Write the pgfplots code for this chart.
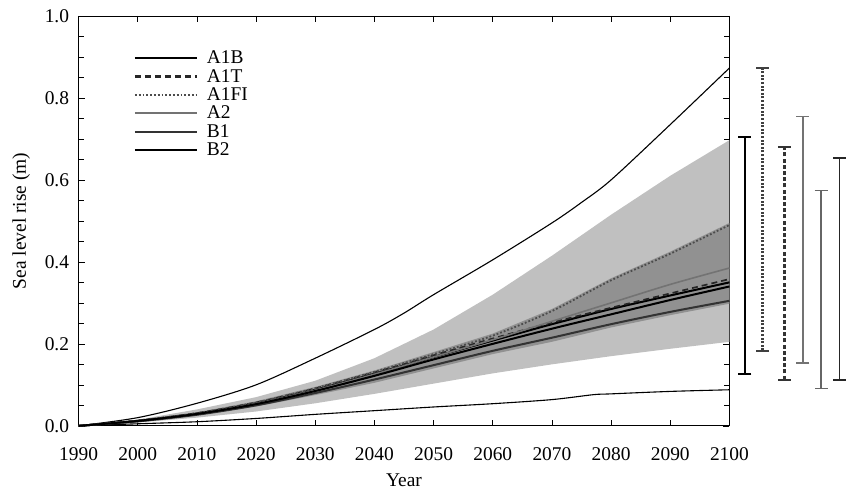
\documentclass[border=0pt]{standalone}
\usepackage{fontspec}
\setmainfont{Liberation Serif}
\usepackage{pgfplots}
\pgfplotsset{compat=1.18}
\usepgfplotslibrary{fillbetween}
\usetikzlibrary{arrows.meta}
\definecolor{lightband}{RGB}{192,192,192}
\definecolor{darkband}{RGB}{145,145,145}
\begin{document}
\begin{tikzpicture}
\begin{axis}[
  scale only axis, width=651bp, height=410bp,
  xmin=1990, xmax=2100, ymin=0, ymax=1,
  xtick={1990,2000,2010,2020,2030,2040,2050,2060,2070,2080,2090,2100},
  ytick={0,0.2,0.4,0.6,0.8,1.0}, minor y tick num=3,
  tick align=inside,
  major tick length=6bp, minor tick length=5bp,
  /pgf/number format/assume math mode=true,
  xticklabel style={/pgf/number format/1000 sep={}, yshift=-18bp},
  yticklabel style={/pgf/number format/fixed, /pgf/number format/fixed zerofill, /pgf/number format/precision=1, xshift=-6bp},
  tick label style={font=\fontsize{19.5}{22}\selectfont, black},
  label style={font=\fontsize{19.5}{22}\selectfont},
  xlabel={Year}, ylabel={Sea level rise (m)},
  xlabel style={yshift=-6bp},
  ylabel shift=8bp,
  clip=false,
  axis line style={black, line width=0.8bp},
  tick style={black, line width=0.6bp},
  legend cell align=left,
  legend style={draw=none, fill=none, at={(0.08,0.925)}, anchor=north west,
    font=\fontsize{19.5}{22}\selectfont},
  legend image code/.code={\path[draw=none, fill=none] (0bp,-9.2bp) rectangle (70bp,9.2bp); \draw[#1, line width=2.2bp] (0bp,0bp) -- (62bp,0bp);},
]
% light band
\addplot[draw=none, name path=lt, forget plot] coordinates {(1990,0) (2000,0.015) (2010,0.04) (2020,0.07) (2030,0.11) (2040,0.165) (2050,0.235) (2060,0.32) (2070,0.415) (2080,0.515) (2090,0.61) (2100,0.697)};
\addplot[draw=none, name path=lb, forget plot] coordinates {(1990,0) (2000,0.008) (2010,0.02) (2020,0.035) (2030,0.055) (2040,0.078) (2050,0.103) (2060,0.128) (2070,0.15) (2080,0.17) (2090,0.188) (2100,0.205)};
\addplot[lightband, forget plot] fill between[of=lt and lb];
% dark band
\addplot[draw=none, name path=dt, forget plot] coordinates {(1990,0) (2000,0.014) (2010,0.033) (2020,0.06) (2030,0.095) (2040,0.135) (2050,0.18) (2060,0.225) (2070,0.285) (2080,0.36) (2090,0.425) (2100,0.495)};
\addplot[draw=none, name path=db, forget plot] coordinates {(1990,0) (2000,0.011) (2010,0.026) (2020,0.047) (2030,0.075) (2040,0.105) (2050,0.14) (2060,0.175) (2070,0.205) (2080,0.24) (2090,0.27) (2100,0.298)};
\addplot[darkband, forget plot] fill between[of=dt and db];
% outer envelope
\addplot[black, line width=1.1bp, smooth, forget plot] coordinates {(1990,0) (2000,0.02) (2010,0.055) (2020,0.10) (2030,0.165) (2040,0.235) (2045,0.275) (2050,0.32) (2060,0.405) (2070,0.495) (2075,0.545) (2080,0.60) (2090,0.735) (2100,0.873)};
\addplot[black, line width=1.1bp, smooth, forget plot] coordinates {(1990,0) (2000,0.005) (2010,0.01) (2020,0.018) (2030,0.028) (2040,0.037) (2050,0.046) (2060,0.054) (2070,0.064) (2077,0.076) (2080,0.078) (2090,0.084) (2100,0.088)};
% scenarios
\addplot[black, line width=2bp, smooth] coordinates {(1990,0) (2000,0.012) (2010,0.03) (2020,0.055) (2030,0.088) (2040,0.127) (2050,0.168) (2060,0.208) (2070,0.248) (2080,0.285) (2090,0.318) (2100,0.35)};
\addlegendentry{A1B}
\addplot[black!85, line width=1.7bp, dash pattern=on 6bp off 4bp, smooth] coordinates {(1990,0) (2000,0.013) (2010,0.031) (2020,0.057) (2030,0.091) (2040,0.13) (2050,0.172) (2060,0.213) (2070,0.252) (2080,0.288) (2090,0.323) (2100,0.358)};
\addlegendentry{A1T}
\addplot[black!70, line width=1.8bp, dash pattern=on 1.8bp off 2bp, smooth] coordinates {(1990,0) (2000,0.013) (2010,0.031) (2020,0.057) (2030,0.092) (2040,0.132) (2050,0.175) (2060,0.22) (2070,0.28) (2080,0.355) (2090,0.42) (2100,0.49)};
\addlegendentry{A1FI}
\addplot[black!55, line width=1.6bp, smooth] coordinates {(1990,0) (2000,0.012) (2010,0.029) (2020,0.054) (2030,0.087) (2040,0.126) (2050,0.168) (2060,0.21) (2070,0.255) (2080,0.30) (2090,0.345) (2100,0.385)};
\addlegendentry{A2}
\addplot[black!80, line width=2bp, smooth] coordinates {(1990,0) (2000,0.011) (2010,0.027) (2020,0.05) (2030,0.08) (2040,0.113) (2050,0.148) (2060,0.183) (2070,0.215) (2080,0.248) (2090,0.278) (2100,0.305)};
\addlegendentry{B1}
\addplot[black, line width=2bp, smooth] coordinates {(1990,0) (2000,0.012) (2010,0.029) (2020,0.053) (2030,0.085) (2040,0.122) (2050,0.162) (2060,0.2) (2070,0.237) (2080,0.272) (2090,0.307) (2100,0.34)};
\addlegendentry{B2}
% range bars at 2100
\addplot[forget plot, black, line width=1.9bp, {Bar[width=13bp]}-{Bar[width=13bp]}] coordinates {(2102.6,0.125) (2102.6,0.707)};
\addplot[forget plot, black!75, line width=2.3bp, dash pattern=on 2bp off 1.6bp, {Bar[width=13bp]}-{Bar[width=13bp]}] coordinates {(2105.6,0.180) (2105.6,0.876)};
\addplot[forget plot, black!80, line width=2.1bp, dash pattern=on 4bp off 2.2bp, {Bar[width=13bp]}-{Bar[width=13bp]}] coordinates {(2109.3,0.109) (2109.3,0.682)};
\addplot[forget plot, black!55, line width=1.5bp, {Bar[width=13bp]}-{Bar[width=13bp]}] coordinates {(2112.4,0.151) (2112.4,0.757)};
\addplot[forget plot, black!60, line width=1.6bp, {Bar[width=13bp]}-{Bar[width=13bp]}] coordinates {(2115.5,0.089) (2115.5,0.576)};
\addplot[forget plot, black!85, line width=1.9bp, {Bar[width=13bp]}-{Bar[width=13bp]}] coordinates {(2118.6,0.110) (2118.6,0.656)};
\end{axis}
\path ([xshift=-9bp]current bounding box.west);
\path ([yshift=6bp]current bounding box.north);
\end{tikzpicture}
\end{document}
